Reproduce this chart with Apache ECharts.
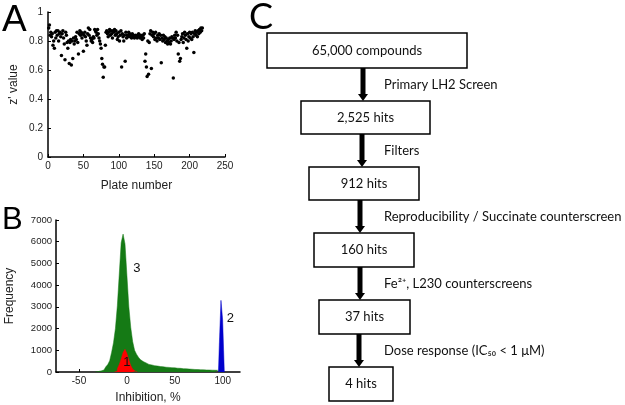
<!DOCTYPE html>
<html>
<head>
<meta charset="utf-8">
<script src="https://cdn.jsdelivr.net/npm/echarts@6.0.0/dist/echarts.min.js"></script>
<style>
  html, body { margin: 0; padding: 0; background: #fff; }
  #main { width: 625px; height: 405px; }
</style>
</head>
<body>
<div id="main"></div>
<script>
// --- panel A: z' value per plate (plates 1..N)
const plateZ = [
  0.89, 0.91, 0.84, 0.86, 0.83, 0.85, 0.77, 0.80, 0.75, 0.86,
  0.82, 0.87, 0.84, 0.87, 0.80, 0.85, 0.86, 0.83, 0.70, 0.85,
  0.87, 0.82, 0.78, 0.67, 0.86, 0.84, 0.79, 0.75, 0.80, 0.645,
  0.79, 0.81, 0.635, 0.80, 0.68, 0.82, 0.78, 0.80, 0.83, 0.81,
  0.86, 0.79, 0.71, 0.85, 0.87, 0.84, 0.86, 0.82, 0.85, 0.73,
  0.84, 0.86, 0.83, 0.80, 0.77, 0.85, 0.89, 0.84, 0.88, 0.82,
  0.80, 0.81, 0.79, 0.83, 0.82, 0.88, 0.87, 0.86, 0.84, 0.88,
  0.85, 0.82, 0.80, 0.78, 0.75, 0.68, 0.64, 0.55, 0.62, 0.62,
  0.77, 0.86, 0.87, 0.85, 0.83, 0.86, 0.88, 0.84, 0.87, 0.85,
  0.82, 0.87, 0.86, 0.88, 0.84, 0.87, 0.85, 0.81, 0.83, 0.86,
  0.80, 0.84, 0.87, 0.62, 0.85, 0.83, 0.80, 0.84, 0.66, 0.86,
  0.82, 0.84, 0.83, 0.86, 0.85, 0.83, 0.84, 0.82, 0.85, 0.83,
  0.84, 0.82, 0.83, 0.84, 0.83, 0.82, 0.84, 0.85, 0.83, 0.82,
  0.84, 0.83, 0.81, 0.84, 0.82, 0.85, 0.66, 0.71, 0.62, 0.555,
  0.80, 0.57, 0.79, 0.85, 0.87, 0.61, 0.84, 0.86, 0.83, 0.85,
  0.81, 0.86, 0.82, 0.80, 0.84, 0.82, 0.85, 0.81, 0.84, 0.65,
  0.82, 0.80, 0.84, 0.81, 0.83, 0.79, 0.82, 0.80, 0.78, 0.81,
  0.79, 0.82, 0.78, 0.80, 0.83, 0.82, 0.545, 0.81, 0.84, 0.82,
  0.86, 0.80, 0.84, 0.71, 0.79, 0.66, 0.68, 0.81, 0.83, 0.85,
  0.79, 0.82, 0.86, 0.84, 0.81, 0.75, 0.85, 0.80, 0.83, 0.86,
  0.82, 0.85, 0.81, 0.86, 0.83, 0.72, 0.85, 0.87, 0.84, 0.86,
  0.83, 0.87, 0.85, 0.88, 0.86, 0.89, 0.87, 0.89
];

// --- panel B: histograms of % inhibition (bin centres, counts; empty edge bins included)
const sampleX = [
  -33, -31, -29, -27, -25, -23, -21, -19, -17, -15, -13, -11, -9, -7, -5, -3, -1,
  1, 3, 5, 7, 9, 11, 13, 15, 17, 19, 21, 23, 25, 27, 29, 31,
  33, 35, 37, 39, 41, 43, 45, 47, 49, 51, 53, 55, 57, 59, 61, 63,
  65, 67, 69, 71, 73, 75, 77, 79, 81, 83, 85, 87, 89, 91, 93, 95, 97
];
const sampleCount = [
  0, 20, 30, 50, 90, 150, 240, 340, 520, 900, 1350, 2000, 3050, 4500, 5950, 6350, 5900,
  4450, 3000, 2050, 1400, 1000, 820, 680, 570, 480, 420, 380, 350, 325, 305, 290, 275,
  260, 250, 240, 230, 220, 212, 205, 198, 190, 182, 175, 168, 160, 153, 147, 140,
  134, 128, 122, 117, 112, 107, 103, 100, 97, 94, 91, 88, 85, 82, 80, 78, 0
];
const negX = [-13, -11, -9, -7, -5, -3, -1, 1, 3, 5, 7, 9, 11];
const negCount = [0, 30, 150, 350, 600, 900, 1050, 850, 550, 300, 130, 40, 0];
const posX = [95.5, 97.25, 99, 100.75, 102.5];
const posCount = [0, 1200, 3300, 2400, 0];
const histTicks = [-50, 0, 50, 100];
const noteText = ['1', '2', '3'];
const noteAt = [[0, 450], [108, 2490], [10.5, 4770]];

// --- panel C: screening funnel
const stageLabels = ['65,000 compounds', '2,525 hits', '912 hits', '160 hits', '37 hits', '4 hits'];
const stepLabels = [
  'Primary LH2 Screen',
  'Filters',
  'Reproducibility / Succinate counterscreen',
  'Fe\u00B2\u207A, L230 counterscreens',
  'Dose response (IC\u2085\u2080 < 1 \u03BCM)'
];
// box layout: [left, right, top, bottom] in px
const boxLayout = [
  [267, 467, 33, 68],
  [301, 430, 101, 134],
  [309, 419, 167, 200],
  [314, 414, 233, 267],
  [319, 410, 300, 334],
  [329, 393, 367, 401]
];
const arrowX = [363, 362, 360, 360, 359];

const axisColor = '#000';
const tickFont = { color: '#222', fontSize: 10, fontFamily: 'Liberation Sans' };
const nameFont = { color: '#222', fontSize: 12, fontFamily: 'Liberation Sans' };
const flowFont = 'Lato';

function histSeries(xs, counts, color) {
  return {
    type: 'line', xAxisIndex: 1, yAxisIndex: 1,
    step: 'middle', symbol: 'none',
    lineStyle: { width: 0.5, color: color },
    areaStyle: { color: color, opacity: 1 },
    data: xs.map(function (x, i) { return [x, counts[i]]; })
  };
}

const graphics = [];
stageLabels.forEach(function (label, i) {
  const b = boxLayout[i];
  graphics.push({
    type: 'rect',
    shape: { x: b[0], y: b[2], width: b[1] - b[0], height: b[3] - b[2] },
    style: { fill: '#fff', stroke: '#000', lineWidth: 1.5 },
    z: 10
  });
  graphics.push({
    type: 'text',
    x: (b[0] + b[1]) / 2,
    y: (b[2] + b[3]) / 2,
    style: { text: label, fill: '#111', font: '13px ' + flowFont, align: 'center', verticalAlign: 'middle' },
    z: 11
  });
});
stepLabels.forEach(function (label, i) {
  const top = boxLayout[i][3];
  const bottom = boxLayout[i + 1][2];
  const x = arrowX[i];
  graphics.push({
    type: 'rect',
    shape: { x: x - 2.5, y: top, width: 5, height: bottom - top - 6 },
    style: { fill: '#000' },
    z: 9
  });
  graphics.push({
    type: 'polygon',
    shape: { points: [[x - 5, bottom - 7], [x + 5, bottom - 7], [x, bottom]] },
    style: { fill: '#000' },
    z: 9
  });
  graphics.push({
    type: 'text',
    x: 384,
    y: (top + bottom) / 2,
    style: { text: label, fill: '#111', font: '13px ' + flowFont, align: 'left', verticalAlign: 'middle' },
    z: 11
  });
});
graphics.push(
  { type: 'text', x: 2, y: 2, style: { text: 'A', fill: '#000', font: '37px Liberation Sans' } },
  { type: 'text', x: 2, y: 205, style: { text: 'B', fill: '#000', font: '31px Liberation Sans' } },
  { type: 'text', x: 249, y: -1, style: { text: 'C', fill: '#000', font: '36px Lato' } }
);

const chart = echarts.init(document.getElementById('main'));
chart.setOption({
  animation: false,
  backgroundColor: '#fff',
  grid: [
    { left: 48, top: 12, width: 177, height: 145 },
    { left: 56, top: 220, width: 184, height: 153 }
  ],
  xAxis: [
    {
      gridIndex: 0, type: 'value', min: 0, max: 250, interval: 50,
      name: 'Plate number', nameLocation: 'middle', nameGap: 23, nameTextStyle: nameFont,
      axisLine: { onZero: false, lineStyle: { color: axisColor, width: 1.5 } },
      axisTick: { inside: true, length: 3, lineStyle: { color: axisColor } },
      axisLabel: Object.assign({ margin: 4 }, tickFont),
      splitLine: { show: false }
    },
    {
      gridIndex: 1, type: 'value', min: -74, max: 118,
      name: 'Inhibition, %', nameLocation: 'middle', nameGap: 20, nameTextStyle: nameFont,
      axisLine: { onZero: false, lineStyle: { color: axisColor, width: 1.5 } },
      axisTick: { inside: true, length: 3, customValues: histTicks, lineStyle: { color: axisColor } },
      axisLabel: Object.assign({ margin: 4, customValues: histTicks }, tickFont),
      splitLine: { show: false }
    }
  ],
  yAxis: [
    {
      gridIndex: 0, type: 'value', min: 0, max: 1, interval: 0.2,
      name: "z' value", nameLocation: 'middle', nameGap: 28, nameTextStyle: nameFont,
      axisLine: { show: true, onZero: false, lineStyle: { color: axisColor, width: 1.5 } },
      axisTick: { show: true, inside: true, length: 3, lineStyle: { color: axisColor } },
      axisLabel: Object.assign({ margin: 5 }, tickFont),
      splitLine: { show: false }
    },
    {
      gridIndex: 1, type: 'value', min: 0, max: 7000, interval: 1000,
      name: 'Frequency', nameLocation: 'middle', nameGap: 40, nameTextStyle: nameFont,
      axisLine: { show: true, onZero: false, lineStyle: { color: axisColor, width: 1.5 } },
      axisTick: { show: true, inside: true, length: 3, lineStyle: { color: axisColor } },
      axisLabel: Object.assign({ margin: 4, formatter: function (v) { return String(v); } }, tickFont, { fontSize: 9.5 }),
      splitLine: { show: false }
    }
  ],
  series: [
    {
      type: 'scatter', xAxisIndex: 0, yAxisIndex: 0,
      symbolSize: 3.5, itemStyle: { color: '#000', opacity: 1 },
      data: plateZ.map(function (z, i) { return [i + 1, z]; })
    },
    histSeries(sampleX, sampleCount, '#157a15'),
    histSeries(negX, negCount, '#ff0000'),
    histSeries(posX, posCount, '#0000cc')
  ],
  graphic: graphics
});

// peak labels, placed through the histogram's axes
noteAt.forEach(function (v, i) {
  const p = chart.convertToPixel({ xAxisIndex: 1, yAxisIndex: 1 }, v);
  graphics.push({
    type: 'text', x: p[0], y: p[1], z: 20,
    style: { text: noteText[i], fill: '#111', font: '13px Liberation Sans', align: 'center', verticalAlign: 'middle' }
  });
});
chart.setOption({ graphic: graphics });
</script>
</body>
</html>
